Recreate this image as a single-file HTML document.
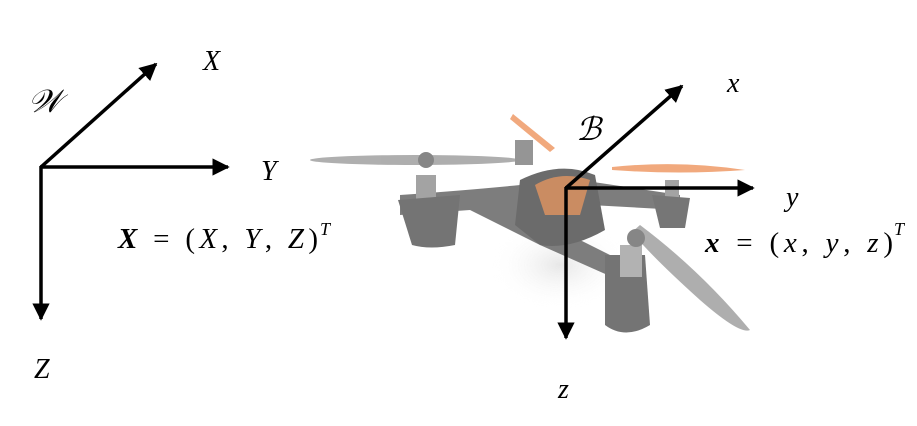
<!DOCTYPE html>
<html><head><meta charset="utf-8"><style>
html,body{margin:0;padding:0;background:#fff;}
svg{display:block;}
text{font-family:"Liberation Serif",serif;font-style:italic;fill:#000;}
</style></head><body>
<svg width="917" height="426" viewBox="0 0 917 426">
<defs>
<marker id="ah" viewBox="0 0 10 10" refX="9" refY="5" markerWidth="5" markerHeight="5" orient="auto-start-reverse" markerUnits="strokeWidth">
<path d="M0,0 L10,5 L0,10 z" fill="#000"/></marker>
<radialGradient id="sh" cx="50%" cy="50%" r="50%"><stop offset="0" stop-color="#e4e4e4"/><stop offset="1" stop-color="#fff" stop-opacity="0"/></radialGradient>
</defs>

<g opacity="0.9">
<ellipse cx="560" cy="265" rx="70" ry="45" fill="url(#sh)"/>
<ellipse cx="415" cy="160" rx="105" ry="5" fill="#a6a6a6"/>
<path d="M513,114 L555,148 L550,152 L510,119 z" fill="#f0a070"/>
<path d="M612,167 Q680,160 745,170 Q680,175 612,170 z" fill="#f0a070"/>
<path d="M400,195 Q470,190 520,185 L580,180 L680,195 L680,210 L590,205 L560,230 L640,270 L630,285 L540,245 L470,210 L400,215 z" fill="#707070"/>
<rect x="416" y="175" width="20" height="30" fill="#9a9a9a"/>
<circle cx="426" cy="160" r="8" fill="#7a7a7a"/>
<rect x="515" y="140" width="18" height="25" fill="#8a8a8a"/>
<rect x="665" y="180" width="14" height="20" fill="#9a9a9a"/>
<path d="M398,200 L460,195 L455,245 Q430,250 412,245 z" fill="#656565"/>
<path d="M652,195 L690,198 L685,228 L660,228 z" fill="#686868"/>
<path d="M520,180 Q560,160 595,175 L605,230 Q570,250 540,245 L515,225 z" fill="#5c5c5c"/>
<path d="M535,185 Q560,170 590,180 L580,215 L545,215 z" fill="#e08a50" opacity="0.8"/>
<path d="M640,225 Q700,270 750,330 Q740,335 700,300 Q650,255 632,232 z" fill="#a6a6a6"/>
<path d="M605,255 L645,255 L650,325 Q625,340 605,325 z" fill="#656565"/>
<rect x="620" y="245" width="22" height="32" fill="#aaa"/>
<circle cx="636" cy="238" r="9" fill="#7a7a7a"/>
</g>

<g stroke="#000" stroke-width="3.5" fill="none">
<line x1="41" y1="167" x2="156" y2="64" marker-end="url(#ah)"/>
<line x1="40" y1="167" x2="228" y2="167" marker-end="url(#ah)"/>
<line x1="41" y1="166" x2="41" y2="319" marker-end="url(#ah)"/>
</g>
<text x="28" y="112" font-size="32">𝒲</text>
<text x="203" y="70" font-size="28">X</text>
<text x="261" y="180" font-size="28">Y</text>
<text x="34" y="378" font-size="28">Z</text>
<text x="118" y="248" font-size="29" textLength="200" lengthAdjust="spacing"><tspan font-weight="bold">X</tspan><tspan font-style="normal"> = (</tspan>X<tspan font-style="normal">, </tspan>Y<tspan font-style="normal">, </tspan>Z<tspan font-style="normal">)</tspan></text>
<text x="320" y="235" font-size="18">T</text>
<text x="894" y="235" font-size="18">T</text>

<g stroke="#000" stroke-width="3.5" fill="none">
<line x1="566" y1="188" x2="682" y2="86" marker-end="url(#ah)"/>
<line x1="565" y1="188" x2="753" y2="188" marker-end="url(#ah)"/>
<line x1="566" y1="187" x2="566" y2="338" marker-end="url(#ah)"/>
</g>
<text x="576" y="140" font-size="32">ℬ</text>
<text x="727" y="92" font-size="28">x</text>
<text x="786" y="206" font-size="28">y</text>
<text x="558" y="398" font-size="28">z</text>
<text x="705" y="252" font-size="29" textLength="188" lengthAdjust="spacing"><tspan font-weight="bold">x</tspan><tspan font-style="normal"> = (</tspan>x<tspan font-style="normal">, </tspan>y<tspan font-style="normal">, </tspan>z<tspan font-style="normal">)</tspan></text>
</svg>
</body></html>
